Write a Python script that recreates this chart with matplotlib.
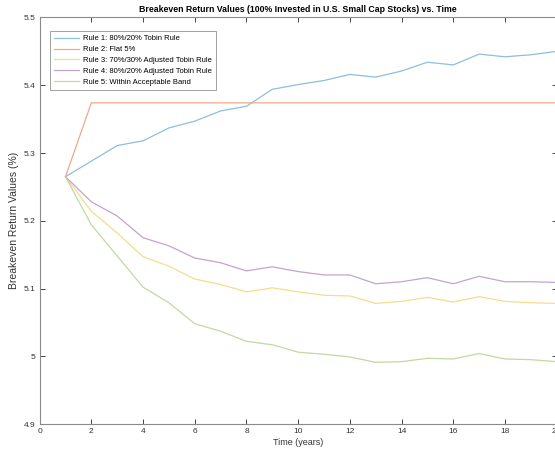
#!/usr/bin/env python3
"""
Breakeven return values vs. time, MATLAB-style line chart
"""

import matplotlib
matplotlib.use('Agg')
import matplotlib.pyplot as plt
from matplotlib.ticker import FuncFormatter

# Data
years = list(range(1, 21))
rule1 = [5.265, 5.288, 5.311, 5.318, 5.337, 5.347, 5.362, 5.369, 5.394, 5.401,
         5.407, 5.416, 5.412, 5.421, 5.434, 5.430, 5.446, 5.442, 5.445, 5.450]
rule2 = [5.265] + [5.374] * 19
rule3 = [5.265, 5.214, 5.182, 5.147, 5.133, 5.114, 5.106, 5.095, 5.101, 5.095,
         5.090, 5.089, 5.078, 5.081, 5.087, 5.080, 5.088, 5.081, 5.079, 5.078]
rule4 = [5.265, 5.228, 5.207, 5.175, 5.163, 5.145, 5.138, 5.126, 5.132, 5.125,
         5.120, 5.120, 5.107, 5.110, 5.116, 5.107, 5.118, 5.110, 5.110, 5.109]
rule5 = [5.265, 5.194, 5.148, 5.102, 5.079, 5.048, 5.037, 5.022, 5.017, 5.006,
         5.003, 4.999, 4.991, 4.992, 4.997, 4.996, 5.004, 4.996, 4.995, 4.992]

labels = ['Rule 1: 80%/20% Tobin Rule',
          'Rule 2: Flat 5%',
          'Rule 3: 70%/30% Adjusted Tobin Rule',
          'Rule 4: 80%/20% Adjusted Tobin Rule',
          'Rule 5: Within Acceptable Band']

x_ticks = list(range(0, 21, 2))
y_ticks = [4.9, 5.0, 5.1, 5.2, 5.3, 5.4, 5.5]

# faded MATLAB default colours
colors = ['#8cbfe0', '#f0a88a', '#f6dc8c', '#c3a3d0', '#c2d9a0']

plt.rcParams['font.family'] = ['Liberation Sans', 'DejaVu Sans']

fig = plt.figure(figsize=(5.55, 4.58), dpi=100)
ax = fig.add_axes([0.0714, 0.0742, 0.9316, 0.8876])

for ys, lab, col in zip([rule1, rule2, rule3, rule4, rule5], labels, colors):
    ax.plot(years, ys, color=col, linewidth=0.9, label=lab)

ax.set_xlim(0, 20)
ax.set_ylim(4.9, 5.5)
ax.set_xticks(x_ticks)
ax.set_yticks(y_ticks)
ax.yaxis.set_major_formatter(FuncFormatter(lambda v, p: '%g' % round(v, 2)))

axis_col = '#8a8a8a'
for s in ax.spines.values():
    s.set_color(axis_col)
    s.set_linewidth(0.8)
ax.tick_params(direction='in', length=3.5, width=0.7, color='#444444',
               labelsize=6, labelcolor='#333333', top=True, right=True, pad=3)

ax.set_title('Breakeven Return Values (100% Invested in U.S. Small Cap Stocks) vs. Time',
             fontsize=6.3, fontweight='bold', pad=4)
ax.set_xlabel('Time (years)', fontsize=6.5, color='#333333', labelpad=2)
ax.set_ylabel('Breakeven Return Values (%)', fontsize=7.5, color='#333333', labelpad=3)

leg = ax.legend(loc='upper left', bbox_to_anchor=(0.02, 0.967), borderaxespad=0,
                fontsize=5.5, frameon=True, fancybox=False, handlelength=3.3,
                handletextpad=0.5, labelspacing=0.45, borderpad=0.55)
leg.get_frame().set_edgecolor('#8a8a8a')
leg.get_frame().set_linewidth(0.7)

plt.savefig('out.png', dpi=100)
